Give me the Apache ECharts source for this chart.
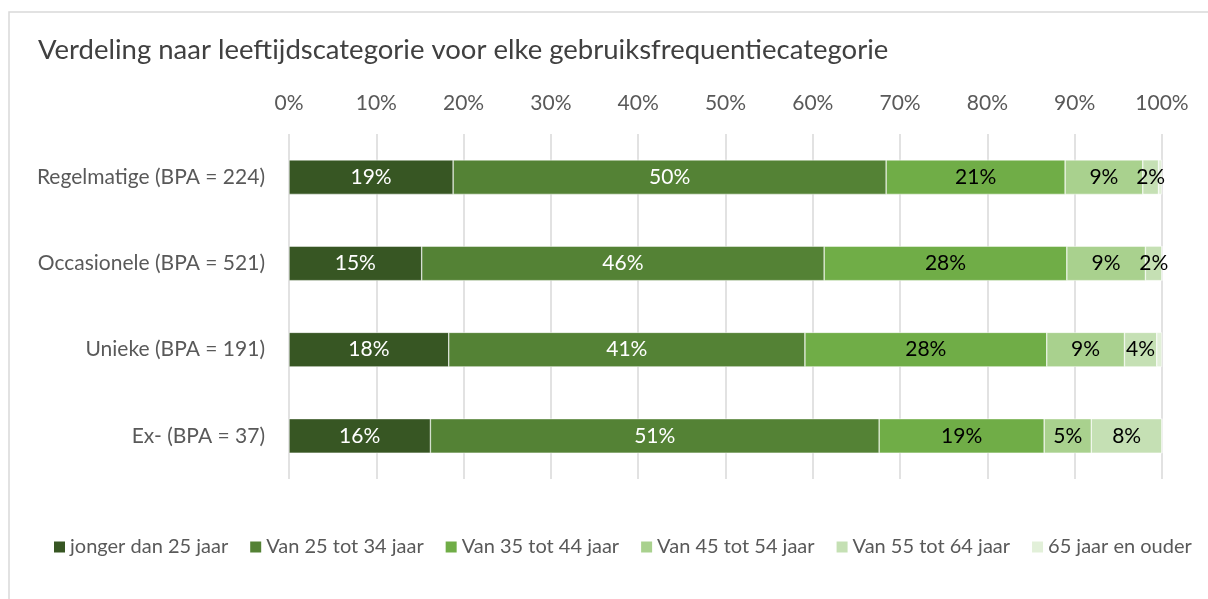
<!DOCTYPE html>
<html>
<head>
<meta charset="utf-8">
<script src="https://cdn.jsdelivr.net/npm/echarts@6/dist/echarts.min.js"></script>
<style>
  html, body { margin: 0; padding: 0; background: #fff; }
  #chart { width: 1208px; height: 599px; }
</style>
</head>
<body>
<div id="chart"></div>
<script>
// categories, top to bottom
let categories = ['Regelmatige (BPA = 224)', 'Occasionele (BPA = 521)', 'Unieke (BPA = 191)', 'Ex- (BPA = 37)']
let seriesNames = ['jonger dan 25 jaar', 'Van 25 tot 34 jaar', 'Van 35 tot 44 jaar', 'Van 45 tot 54 jaar', 'Van 55 tot 64 jaar', '65 jaar en ouder']
let colors = ['#375623', '#548235', '#70AD47', '#A9D18E', '#C5E0B4', '#E2F0D9']
let labelColors = ['#fff', '#fff', '#000', '#000', '#000', '#000']

// percentages per age group (one per category)
let under25 = [18.8, 15.2, 18.3, 16.2]
let age25to34 = [49.6, 46.1, 40.8, 51.4]
let age35to44 = [20.5, 27.8, 27.7, 18.9]
let age45to54 = [8.9, 9.0, 8.9, 5.4]
let age55to64 = [1.8, 1.9, 3.7, 8.1]
let age65plus = [0.4, 0.0, 0.6, 0.0]

let values = [under25, age25to34, age35to44, age45to54, age55to64, age65plus]
let font = 'Lato'

let chart = echarts.init(document.getElementById('chart'))
chart.setOption({
  animation: false,
  textStyle: { fontFamily: font },
  graphic: [{
    type: 'rect',
    shape: { x: 9, y: 12, width: 1210, height: 600 },
    style: { fill: 'none', stroke: '#d9d9d9', lineWidth: 1.5 }
  }],
  title: {
    text: 'Verdeling naar leeftijdscategorie voor elke gebruiksfrequentiecategorie',
    left: 33, top: 31,
    textStyle: { fontFamily: font, fontSize: 27.5, fontWeight: 'normal', color: '#404040' }
  },
  legend: {
    bottom: 37, left: 47,
    itemWidth: 13, itemHeight: 13, itemGap: 20,
    icon: 'rect',
    textStyle: { fontFamily: font, fontSize: 20, color: '#595959', padding: [0, 0, 0, -1] },
    data: seriesNames
  },
  grid: { left: 289, right: 46, top: 134, bottom: 120 },
  xAxis: {
    type: 'value', position: 'top', min: 0, max: 100, interval: 10,
    axisLabel: { formatter: '{value}%', fontSize: 21, color: '#595959', margin: 20, fontFamily: font },
    axisLine: { show: false }, axisTick: { show: false },
    splitLine: { lineStyle: { color: '#d9d9d9', width: 1.5 } }
  },
  yAxis: {
    type: 'category', inverse: true, data: categories,
    axisLabel: { fontSize: 21, color: '#595959', margin: 24, fontFamily: font },
    axisLine: { show: false }, axisTick: { show: false }
  },
  series: seriesNames.map((name, i) => ({
    name: name,
    type: 'bar',
    stack: 'total',
    barWidth: '40%',
    itemStyle: { color: colors[i], borderColor: '#fff', borderWidth: 0.5 },
    label: {
      show: i < 5,
      position: 'inside',
      fontSize: 21,
      fontFamily: font,
      color: labelColors[i],
      formatter: p => Math.round(p.value) + '%'
    },
    data: values[i]
  }))
})
</script>
</body>
</html>
